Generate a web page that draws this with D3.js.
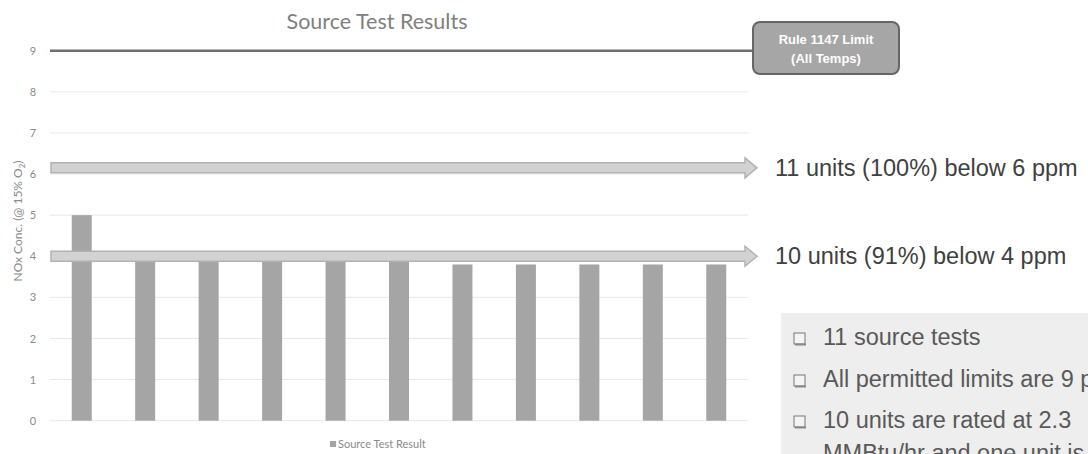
<!DOCTYPE html>
<meta charset="utf-8">
<style>
body { margin: 0; background: #fff; }
.bar { fill: #a5a5a5; }
.grid line { stroke: #e8e8e8; }
.axis text { fill: #8a8a8a; font-family: Lato, sans-serif; font-size: 11px; }
</style>
<body>
<script src="https://d3js.org/d3.v7.min.js"></script>
<script>

// chart data
var units = ["1", "2", "3", "4", "5", "6", "7", "8", "9", "10", "11"];
var results = [5.0, 3.9, 3.9, 3.9, 3.9, 3.9, 3.8, 3.8, 3.8, 3.8, 3.8];
var yTicks = [0, 1, 2, 3, 4, 5, 6, 7, 8, 9];
var limitValue = 9;
var arrowLevels = [6.15, 4];
var arrowLabels = ["11 units (100%) below 6 ppm", "10 units (91%) below 4 ppm"];
var notes = ["11 source tests", "All permitted limits are 9 ppm", "10 units are rated at 2.3", "MMBtu/hr and one unit is"];

var W = 1088, H = 454;
var plotLeft = 50, plotRight = 748, plotTop = 50.7, plotBottom = 420.7;

var svg = d3.select("body").append("svg")
    .attr("width", W)
    .attr("height", H);

var x = d3.scaleBand()
    .domain(units)
    .range([plotLeft, plotRight])
    .paddingInner(0.685)
    .paddingOuter(0.3425);
var y = d3.scaleLinear()
    .domain([0, 9])
    .range([plotBottom, plotTop]);

// gridlines
svg.append("g")
    .attr("class", "grid")
  .selectAll("line")
    .data(yTicks)
  .enter().append("line")
    .attr("x1", plotLeft).attr("x2", plotRight)
    .attr("y1", d => y(d)).attr("y2", d => y(d));

// y axis
var yAxis = svg.append("g")
    .attr("class", "axis")
    .attr("transform", "translate(" + plotLeft + ",0)")
    .call(d3.axisLeft(y).tickValues(yTicks).tickSize(0));
yAxis.select(".domain").remove();
yAxis.selectAll("text")
    .attr("x", -17)
    .attr("text-anchor", "middle");

// bars
svg.selectAll(".bar")
    .data(results)
  .enter().append("rect")
    .attr("class", "bar")
    .attr("x", (d, i) => x(units[i]))
    .attr("width", x.bandwidth())
    .attr("y", d => y(d))
    .attr("height", d => plotBottom - y(d));

// limit line + callout
svg.append("line")
    .attr("x1", plotLeft).attr("x2", 753)
    .attr("y1", y(limitValue)).attr("y2", y(limitValue))
    .style("stroke", "#6e6e6e")
    .style("stroke-width", 2.5);
svg.append("rect")
    .attr("x", 753).attr("y", 22)
    .attr("width", 146).attr("height", 52)
    .attr("rx", 7)
    .style("fill", "#a6a6a6")
    .style("stroke", "#666")
    .style("stroke-width", 2);
svg.append("text")
    .attr("x", 826).attr("y", 44)
    .attr("text-anchor", "middle")
    .style("font-family", "Liberation Sans, Arial, sans-serif")
    .style("font-weight", "bold")
    .style("font-size", "13px")
    .style("fill", "#fff")
    .text("Rule 1147 Limit");
svg.append("text")
    .attr("x", 826).attr("y", 63)
    .attr("text-anchor", "middle")
    .style("font-family", "Liberation Sans, Arial, sans-serif")
    .style("font-weight", "bold")
    .style("font-size", "13px")
    .style("fill", "#fff")
    .text("(All Temps)");

// arrows
var tipX = 757, headX = 745;
arrowLevels.forEach(function(v, i) {
  var cy = y(v);
  var pts = [
    [plotLeft + 1, cy - 5], [headX, cy - 5], [headX, cy - 10], [tipX, cy],
    [headX, cy + 10], [headX, cy + 5], [plotLeft + 1, cy + 5]
  ];
  svg.append("polygon")
      .attr("points", pts.map(p => p.join(",")).join(" "))
      .style("fill", "#d2d2d2")
      .style("stroke", "#b2b2b2")
      .style("stroke-width", 1.5);
  svg.append("text")
      .attr("x", 775).attr("y", cy)
      .attr("dy", "0.35em")
      .style("font-family", "Liberation Sans, Arial, sans-serif")
      .style("font-size", "23.5px")
      .style("fill", "#404040")
      .text(arrowLabels[i]);
});

// title
svg.append("text")
    .attr("x", 377).attr("y", 29)
    .attr("text-anchor", "middle")
    .style("font-family", "Lato, sans-serif")
    .style("font-size", "21.5px")
    .style("fill", "#808080")
    .text("Source Test Results");

// y label
var yl = svg.append("text")
    .attr("transform", "translate(22," + 221 + ") rotate(-90)")
    .attr("text-anchor", "middle")
    .style("font-family", "Lato, sans-serif")
    .style("font-size", "12px")
    .style("fill", "#8a8a8a");
yl.append("tspan").text("NOx Conc. (@ 15% O");
yl.append("tspan").attr("dy", 3).style("font-size", "8px").text("2");
yl.append("tspan").attr("dy", -3).text(")");

// legend
svg.append("rect")
    .attr("x", 330).attr("y", 441)
    .attr("width", 6).attr("height", 6)
    .attr("class", "bar");
svg.append("text")
    .attr("x", 338).attr("y", 448)
    .style("font-family", "Lato, sans-serif")
    .style("font-size", "11px")
    .style("fill", "#8a8a8a")
    .text("Source Test Result");

// notes box
svg.append("rect")
    .attr("x", 781).attr("y", 313)
    .attr("width", W - 781).attr("height", H - 313)
    .style("fill", "#eeeeee");
var noteY = [345, 387, 428, 461];
notes.forEach(function(t, i) {
  if (i < 3) {
    svg.append("rect")
        .attr("x", 794).attr("y", noteY[i] - 12)
        .attr("width", 11).attr("height", 11)
        .style("fill", "#f4f4f4")
        .style("stroke", "#777")
        .style("stroke-width", 1);
    svg.append("line")
        .attr("x1", 795).attr("x2", 806)
        .attr("y1", noteY[i] - 0.5).attr("y2", noteY[i] - 0.5)
        .style("stroke", "#888").style("stroke-width", 2);
  }
  svg.append("text")
      .attr("x", 823).attr("y", noteY[i])
      .style("font-family", "Liberation Sans, Arial, sans-serif")
      .style("font-size", "23.5px")
      .style("fill", "#595959")
      .text(t);
});

</script>
</body>
